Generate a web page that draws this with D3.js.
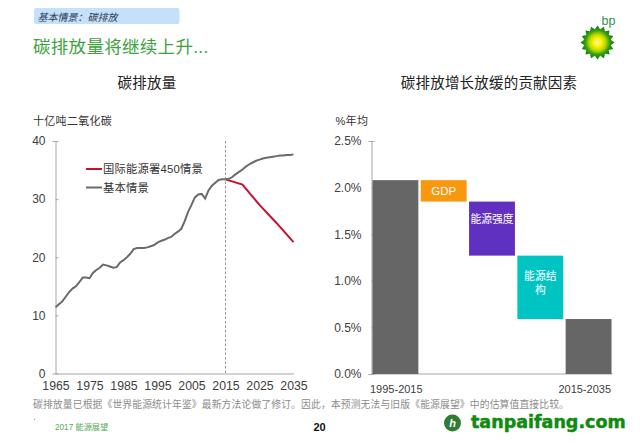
<!DOCTYPE html>
<html><head><meta charset="utf-8">
<script src="https://cdnjs.cloudflare.com/ajax/libs/d3/7.8.5/d3.min.js"></script>
<style>
html,body{margin:0;padding:0;background:#fff}
svg{display:block}
text{font-family:"Liberation Sans","Noto Sans CJK SC",sans-serif}
</style></head><body><svg id="c" width="640" height="443"></svg>
<script>
const histYears = d3.range(1965, 2016);
const histValues = [11.4,11.9,12.4,13.2,14.0,14.6,15.0,15.7,16.5,16.5,16.4,17.3,17.8,18.2,18.75,18.6,18.4,18.2,18.3,19.1,19.5,20.0,20.6,21.4,21.6,21.6,21.6,21.7,21.9,22.1,22.5,22.8,23.0,23.3,23.5,24.0,24.4,24.9,26.2,27.8,29.0,30.3,30.8,30.9,30.1,31.5,32.3,32.8,33.3,33.4,33.4];
const baseYears = [2015,2016,2017,2018,2019,2020,2021,2022,2023,2024,2025,2026,2027,2028,2029,2030,2031,2032,2033,2034,2035];
const baseValues = [33.4,33.5,33.8,34.3,34.7,35.1,35.6,36.0,36.3,36.6,36.8,37.0,37.1,37.2,37.3,37.4,37.5,37.5,37.6,37.6,37.7];
const redYears = [2015,2020,2025,2030,2035];
const redValues = [33.4,32.5,29.0,25.9,22.6];
const xTicks = [1965,1975,1985,1995,2005,2015,2025,2035];
const yTicks = [0,10,20,30,40];
const legendLabels = ["国际能源署450情景","基本情景"];
const wfCats = ["1995-2015","GDP","能源强度","能源结构","2015-2035"];
const wfTop = [2.08,2.08,1.85,1.27,0.59];
const wfBottom = [0,1.85,1.27,0.59,0];
const wfColors = ["#666666","#f7980f","#6030c0","#00c4c4","#666666"];
const pctTicks = [0,0.5,1,1.5,2,2.5];
const footnote = "碳排放量已根据《世界能源统计年鉴》最新方法论做了修订。因此，本预测无法与旧版《能源展望》中的估算值直接比较。";

const svg = d3.select("#c");
const AX = "#a6a6a6", TX = "#404040";

// header
svg.append("rect").attr("x",34).attr("y",8).attr("width",145.5).attr("height",16).attr("rx",2).attr("fill","#c5e0fb");
svg.append("text").attr("x",37.5).attr("y",20.5).attr("font-size",10).attr("font-style","italic").attr("fill","#2c3a50").text("基本情景：碳排放");
svg.append("text").attr("x",33).attr("y",53).attr("font-size",17.5).attr("letter-spacing",0.3).attr("fill","#3ea23e").text("碳排放量将继续上升...");
svg.append("text").attr("x",147).attr("y",88).attr("text-anchor","middle").attr("font-size",14.5).attr("letter-spacing",0.2).attr("fill","#222").text("碳排放量");
svg.append("text").attr("x",489).attr("y",88).attr("text-anchor","middle").attr("font-size",14.5).attr("letter-spacing",0.2).attr("fill","#222").text("碳排放增长放缓的贡献因素");
svg.append("text").attr("x",33).attr("y",125).attr("font-size",11).attr("letter-spacing",0.3).attr("fill","#333").text("十亿吨二氧化碳");
svg.append("text").attr("x",335.5).attr("y",125).attr("font-size",11).attr("letter-spacing",0.3).attr("fill","#333").text("%年均");

// left chart
const x = d3.scaleLinear().domain([1965,2035]).range([55.5,293.5]);
const y = d3.scaleLinear().domain([0,40]).range([373.5,141]);
const gy = svg.append("g").attr("transform","translate(55.5,0)").call(d3.axisLeft(y).tickValues(yTicks).tickSize(3).tickPadding(7));
const gx = svg.append("g").attr("transform","translate(0,373.5)").call(d3.axisBottom(x).tickValues(xTicks).tickFormat(d3.format("d")).tickSize(0).tickPadding(8));
[gy,gx].forEach(g=>{g.selectAll("path,line").attr("stroke",AX).attr("stroke-width",1);g.selectAll("text").attr("font-size",12).attr("fill",TX).attr("font-family",null);});
gx.selectAll("text").attr("font-size",12.3);
gy.selectAll(".tick line").attr("x2",3);
svg.append("line").attr("x1",x(2015)).attr("x2",x(2015)).attr("y1",141).attr("y2",373.5).attr("stroke","#777").attr("stroke-width",0.8).attr("stroke-dasharray","2.5,2");
const line = d3.line().x(d=>x(d[0])).y(d=>y(d[1])).curve(d3.curveLinear);
svg.append("path").datum(redYears.map((v,i)=>[v,redValues[i]])).attr("d",line).attr("fill","none").attr("stroke","#c8102e").attr("stroke-width",2);
svg.append("path").datum(histYears.map((v,i)=>[v,histValues[i]])).attr("d",line).attr("fill","none").attr("stroke","#6a6a6a").attr("stroke-width",2);
svg.append("path").datum(baseYears.map((v,i)=>[v,baseValues[i]])).attr("d",line).attr("fill","none").attr("stroke","#6a6a6a").attr("stroke-width",2);
[["#c8102e",169],["#6a6a6a",187.5]].forEach((d,i)=>{
  svg.append("line").attr("x1",86).attr("x2",102).attr("y1",d[1]).attr("y2",d[1]).attr("stroke",d[0]).attr("stroke-width",2);
  svg.append("text").attr("x",103).attr("y",d[1]+4).attr("font-size",11.3).attr("letter-spacing",0.2).attr("fill","#333").text(legendLabels[i]);
});

// right chart
const bx = d3.scaleBand().domain(wfCats).range([371.5,612.5]).paddingInner(0.05).paddingOuter(0.02);
const by = d3.scaleLinear().domain([0,2.5]).range([374,141]);
const gr = svg.append("g").attr("transform","translate(371.5,0)").call(d3.axisLeft(by).tickValues(pctTicks).tickFormat(d=>d.toFixed(1)+"%").tickSize(3).tickPadding(7));
gr.selectAll("path,line").attr("stroke",AX);
gr.selectAll(".tick line").attr("x2",3);
gr.selectAll("text").attr("font-size",12).attr("fill",TX).attr("font-family",null);
svg.append("line").attr("x1",371.5).attr("x2",612.5).attr("y1",by(0)).attr("y2",by(0)).attr("stroke",AX);
svg.selectAll("rect.wf").data(wfCats).enter().append("rect").attr("class","wf")
 .attr("x",d=>bx(d)).attr("width",bx.bandwidth())
 .attr("y",(d,i)=>by(wfTop[i])).attr("height",(d,i)=>by(wfBottom[i])-by(wfTop[i]))
 .attr("fill",(d,i)=>wfColors[i]);
const cx = i=>bx(wfCats[i])+bx.bandwidth()/2;
svg.append("text").attr("x",cx(1)).attr("y",194.5).attr("text-anchor","middle").attr("font-size",11.5).attr("fill","#fff").text("GDP");
svg.append("text").attr("x",cx(2)).attr("y",223).attr("text-anchor","middle").attr("font-size",10.8).attr("fill","#fff").text("能源强度");
svg.append("text").attr("x",cx(3)).attr("y",280).attr("text-anchor","middle").attr("font-size",10.8).attr("fill","#fff").text("能源结");
svg.append("text").attr("x",cx(3)).attr("y",294).attr("text-anchor","middle").attr("font-size",10.8).attr("fill","#fff").text("构");
svg.append("text").attr("x",370).attr("y",393).attr("font-size",11).attr("fill",TX).text(wfCats[0]);
svg.append("text").attr("x",611).attr("y",393).attr("text-anchor","end").attr("font-size",11).attr("fill",TX).text(wfCats[4]);

// footer
svg.append("text").attr("x",33).attr("y",408).attr("font-size",9.8).attr("letter-spacing",0.13).attr("fill","#8c8c8c").text(footnote);
svg.append("circle").attr("cx",34.5).attr("cy",419.5).attr("r",0.7).attr("fill","#aaa");
svg.append("text").attr("x",55).attr("y",429.5).attr("font-size",8.2).attr("fill","#55aa55").text("2017 能源展望");
svg.append("text").attr("x",319.5).attr("y",431).attr("text-anchor","middle").attr("font-size",11).attr("font-weight","bold").attr("fill","#111").text("20");

// bp logo
const lg = svg.append("g").attr("transform","translate(597.5,42.5)");
const defs = svg.append("defs");
const grad = defs.append("radialGradient").attr("id","sun");
[[0,"#fff8c0"],[0.25,"#fff200"],[0.5,"#b5d400"],[0.72,"#2f9e10"],[1,"#0a7a10"]].forEach(s=>grad.append("stop").attr("offset",s[0]).attr("stop-color",s[1]));
const star = d3.range(32).map(i=>{const a=i*Math.PI/16,r=i%2?13.5:17;return [r*Math.sin(a),-r*Math.cos(a)];});
lg.append("polygon").attr("points",star.map(p=>p.join(",")).join(" ")).attr("fill","url(#sun)");
svg.append("text").attr("x",601.5).attr("y",24.5).attr("font-size",12.5).attr("fill","#2f8f4f").text("bp");

// watermark
svg.append("circle").attr("cx",452.5).attr("cy",423).attr("r",8.5).attr("fill","#2e7d32");
svg.append("text").attr("x",452.5).attr("y",427).attr("text-anchor","middle").attr("font-size",11).attr("font-weight","bold").attr("font-style","italic").attr("fill","#fff").text("h");
svg.append("text").attr("x",471).attr("y",428).style("font-family","'DejaVu Sans'").attr("font-size",17.5).attr("font-weight","bold").attr("stroke","#118a11").attr("stroke-width",0.5).attr("fill","#118a11").text("tanpaifang.com");
</script></body></html>
